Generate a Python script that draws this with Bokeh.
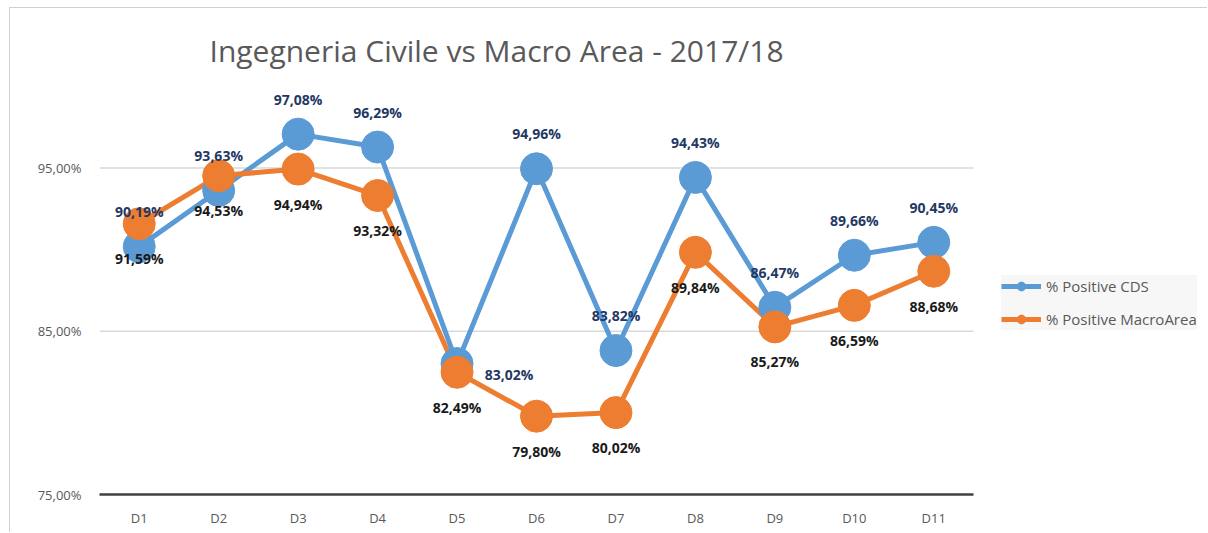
from bokeh.plotting import figure
from bokeh.models import (ColumnDataSource, Range1d, FixedTicker, Legend, LegendItem)
from bokeh.core.properties import value
from bokeh.embed import file_html
from bokeh.resources import INLINE

categories = ["D1", "D2", "D3", "D4", "D5", "D6", "D7", "D8", "D9", "D10", "D11"]
cds = [90.19, 93.63, 97.08, 96.29, 83.02, 94.96, 83.82, 94.43, 86.47, 89.66, 90.45]
macro = [91.59, 94.53, 94.94, 93.32, 82.49, 79.80, 80.02, 89.84, 85.27, 86.59, 88.68]
cds_labels = ["90,19%", "93,63%", "97,08%", "96,29%", "83,02%", "94,96%",
              "83,82%", "94,43%", "86,47%", "89,66%", "90,45%"]
macro_labels = ["91,59%", "94,53%", "94,94%", "93,32%", "82,49%", "79,80%",
                "80,02%", "89,84%", "85,27%", "86,59%", "88,68%"]
y_ticks = [75, 85, 95]
y_tick_labels = ["75,00%", "85,00%", "95,00%"]
title_text = "Ingegneria Civile vs Macro Area - 2017/18"
series_names = ["% Positive CDS", "% Positive MacroArea"]

BLUE = "#5B9BD5"
ORANGE = "#ED7D31"
FONT = "Open Sans"

# geometry (pixels)
W, H = 1198, 525
LEFT, RIGHT, TOP, BOTTOM = 89, 5, 78, 39
CAT_PX = 874 / 11              # width of one category slot
n = len(categories)
xpos = list(range(n))          # category slots on the x scale
x_end = -0.5 + (W - LEFT - RIGHT) / CAT_PX

# label offsets (screen px): blue above, orange below; D5 blue label to the right
cds_xoff = [52 if c == "D5" else 0 for c in categories]
cds_yoff = [11 if c == "D5" else -35 for c in categories]
macro_yoff = [35 for _ in categories]

src_cds = ColumnDataSource(dict(x=xpos, y=cds, lab=cds_labels, xo=cds_xoff, yo=cds_yoff))
src_mac = ColumnDataSource(dict(x=xpos, y=macro, lab=macro_labels, yo=macro_yoff))

p = figure(x_range=Range1d(-0.5, x_end), y_range=Range1d(75, 100),
           width=W, height=H, output_backend="svg",
           toolbar_location=None, min_border_left=LEFT, min_border_right=RIGHT,
           min_border_top=TOP, min_border_bottom=BOTTOM)
p.outline_line_color = None
p.background_fill_color = "white"
p.border_fill_color = "white"

p.title.text = title_text
p.title.text_font = FONT
p.title.text_font_size = "30px"
p.title.text_font_style = "normal"
p.title.text_color = "#595959"
p.title.align = "left"
p.title.vertical_align = "middle"
p.title.offset = 110
p.title.standoff = 30

# horizontal gridlines limited to the category area
p.segment(x0=-0.5, x1=n - 0.5, y0=y_ticks, y1=y_ticks, line_color="#d9d9d9", line_width=1.5)

# lines and markers
l1 = p.line("x", "y", source=src_cds, line_color=BLUE, line_width=5)
l2 = p.line("x", "y", source=src_mac, line_color=ORANGE, line_width=5)
s1 = p.scatter("x", "y", source=src_cds, size=32, fill_color=BLUE, line_color=BLUE)
s2 = p.scatter("x", "y", source=src_mac, size=32, fill_color=ORANGE, line_color=ORANGE)

# data labels
p.text("x", "y", text="lab", source=src_cds, x_offset="xo", y_offset="yo",
       text_align="center", text_baseline="middle", text_font=value(FONT),
       text_font_size="14px", text_font_style="bold", text_color="#1F3864")
p.text("x", "y", text="lab", source=src_mac, y_offset="yo",
       text_align="center", text_baseline="middle", text_font=value(FONT),
       text_font_size="14px", text_font_style="bold", text_color="#1a1a1a")

legend = Legend(items=[LegendItem(label=series_names[0], renderers=[l1, s1]),
                       LegendItem(label=series_names[1], renderers=[l2, s2])],
                location=(902, 164), orientation="vertical")
legend.background_fill_color = "#f7f7f7"
legend.background_fill_alpha = 1
legend.border_line_color = None
legend.label_text_font = FONT
legend.label_text_font_size = "15px"
legend.label_text_color = "#595959"
legend.glyph_width = 40
legend.glyph_height = 22
legend.spacing = 11
legend.padding = 10
legend.margin = 0
legend.label_standoff = 5
p.add_layout(legend, "center")

# axes
p.yaxis.ticker = FixedTicker(ticks=y_ticks)
p.yaxis.major_label_overrides = {t: s for t, s in zip(y_ticks, y_tick_labels)}
p.yaxis.axis_line_color = None
p.yaxis.major_tick_line_color = None
p.yaxis.minor_tick_line_color = None
p.yaxis.major_label_text_font = FONT
p.yaxis.major_label_text_font_size = "13px"
p.yaxis.major_label_text_color = "#595959"
p.yaxis.major_label_standoff = 12

p.xaxis.ticker = FixedTicker(ticks=xpos)
p.xaxis.major_label_overrides = {i: c for i, c in zip(xpos, categories)}
p.xaxis.bounds = (-0.5, n - 0.5)
p.xaxis.axis_line_color = "#404040"
p.xaxis.axis_line_width = 2.5
p.xaxis.major_tick_line_color = None
p.xaxis.minor_tick_line_color = None
p.xaxis.major_label_text_font = FONT
p.xaxis.major_label_text_font_size = "13px"
p.xaxis.major_label_text_color = "#595959"
p.xaxis.major_label_standoff = 8

p.xgrid.grid_line_color = None
p.ygrid.grid_line_color = None

p.styles = {"border-top": "1px solid #d0d0d0", "border-left": "1px solid #d0d0d0",
            "margin-top": "7px", "margin-left": "9px"}

open("out.html", "w").write(file_html(p, INLINE))
